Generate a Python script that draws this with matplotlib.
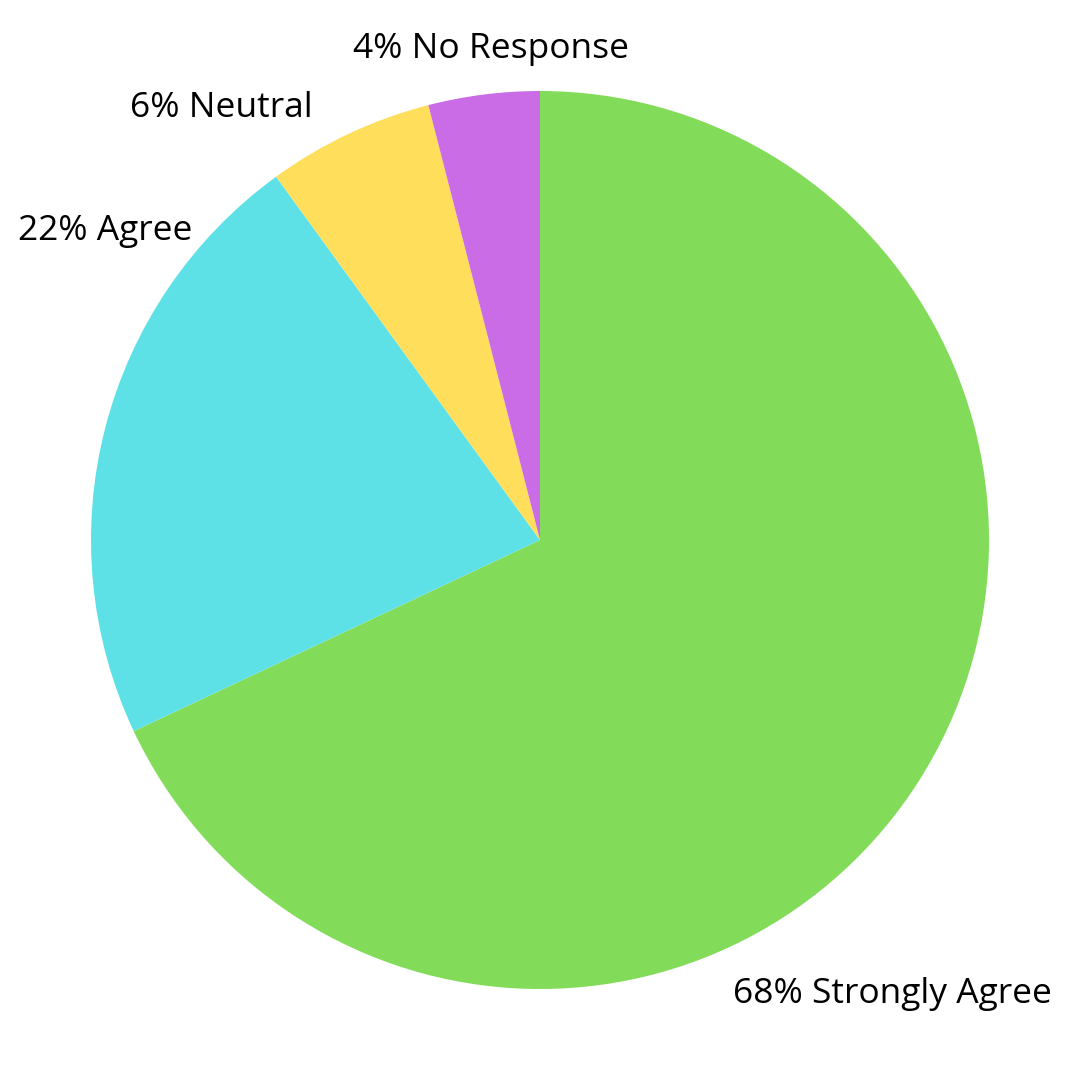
import matplotlib.pyplot as plt

labels = ["Strongly Agree", "Agree", "Neutral", "No Response"]
values = [68, 22, 6, 4]
colors = ["#82DC5A", "#5EE1E6", "#FFDE5C", "#C96CE6"]
# label anchor (left edge x, centre y) in pixels from top-left
label_x = [733, 18, 130, 353]
label_y = [994, 231, 108, 49]

plt.rcParams['font.family'] = ['Open Sans', 'DejaVu Sans']

fig = plt.figure(figsize=(10.8, 10.8), dpi=100)
ax = fig.add_axes([0, 0, 1, 1])
ax.pie(values, colors=colors, startangle=90, counterclock=False,
       center=(540, 540), radius=449, frame=False,
       wedgeprops=dict(linewidth=0))
ax.set_xlim(0, 1080)
ax.set_ylim(0, 1080)
ax.set_aspect('equal')
ax.axis('off')

for lab, v, x, y in zip(labels, values, label_x, label_y):
    ax.text(x, 1080 - y, f"{v}% {lab}", ha='left', va='center',
            fontsize=25.5, color='black')

fig.savefig("out.png", dpi=100, facecolor='white')
